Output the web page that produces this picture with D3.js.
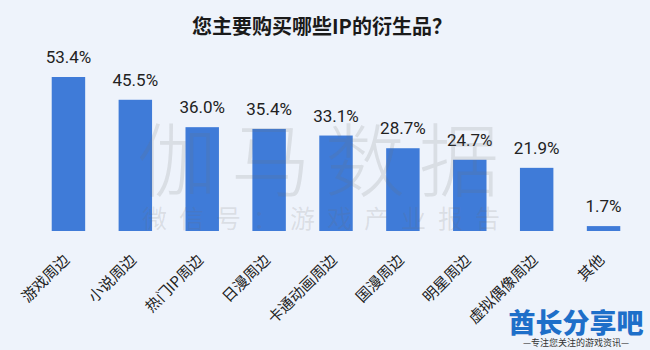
<!DOCTYPE html>
<html><head><meta charset="utf-8">
<script src="https://cdn.jsdelivr.net/npm/d3@7"></script>
<style>body{margin:0;background:#eef3fb;}svg{display:block;}</style>
</head><body>
<svg id="c" width="650" height="350"></svg>
<script>
const categories = ["游戏周边","小说周边","热门IP周边","日漫周边","卡通动画周边","国漫周边","明星周边","虚拟偶像周边","其他"];
const values = [53.4,45.5,36.0,35.4,33.1,28.7,24.7,21.9,1.7];
const title = "您主要购买哪些IP的衍生品？";

const svg = d3.select("#c");
const W=650,H=350;
svg.append("rect").attr("width",W).attr("height",H).attr("fill","#eef3fb");
const font = "'Noto Sans CJK SC','Noto Sans',sans-serif";

svg.append("text").attr("x",322).attr("y",34).attr("text-anchor","middle")
  .attr("font-family",font).attr("font-weight","700").attr("font-size",20).attr("fill","#1a1a1a").text(title);

const x = d3.scaleBand().domain(categories).range([35,637]).paddingInner(0.5).paddingOuter(0.25);
const y = d3.scaleLinear().domain([0,53.4]).range([231,77]);

svg.selectAll("rect.bar").data(values).enter().append("rect").attr("class","bar")
  .attr("x",(d,i)=>x(categories[i])).attr("width",x.bandwidth())
  .attr("y",d=>y(d)).attr("height",d=>y(0)-y(d)).attr("fill","#3f7bd8");

svg.selectAll("text.val").data(values).enter().append("text").attr("class","val")
  .attr("x",(d,i)=>x(categories[i])+x.bandwidth()/2).attr("y",d=>y(d)-14)
  .attr("text-anchor","middle").attr("font-family","Roboto,sans-serif").attr("font-size",17).attr("fill","#222")
  .text(d=>d.toFixed(1)+"%");

svg.selectAll("text.cat").data(categories).enter().append("text").attr("class","cat")
  .attr("transform",d=>`translate(${x(d)+x.bandwidth()/2-1},${258}) rotate(-45)`)
  .attr("text-anchor","end").attr("dominant-baseline","middle")
  .attr("font-family",font).attr("font-size",15).attr("fill","#222").text(d=>d);

// watermark
svg.append("text").attr("x",325).attr("y",190).attr("text-anchor","middle")
  .attr("font-family",font).attr("font-size",80).attr("letter-spacing",14).attr("font-weight","300")
  .attr("fill","rgba(110,110,110,0.16)").text("伽马数据");
svg.append("text").attr("x",327).attr("y",228).attr("text-anchor","middle")
  .attr("font-family",font).attr("font-size",25).attr("letter-spacing",12)
  .attr("fill","rgba(110,110,110,0.16)").text("微信号：游戏产业报告");

// logo
svg.append("text").attr("x",576).attr("y",333).attr("text-anchor","middle")
  .attr("font-family",font).attr("font-weight","900").attr("font-size",27).attr("fill","#1e6fc9").text("酋长分享吧");
svg.append("text").attr("x",576).attr("y",346).attr("text-anchor","middle")
  .attr("font-family",font).attr("font-size",9).attr("fill","#333").text("—专注您关注的游戏资讯—");
</script>
</body></html>
